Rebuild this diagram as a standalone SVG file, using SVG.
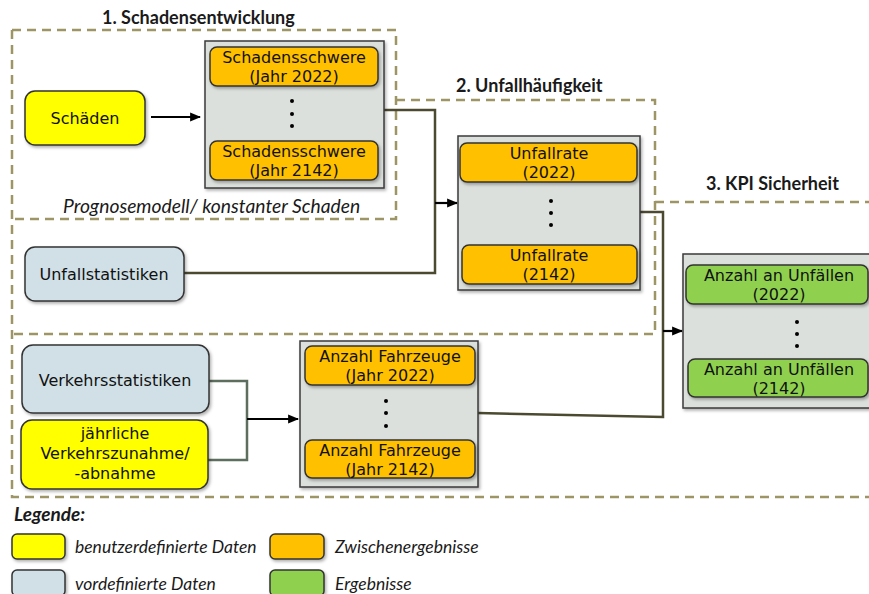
<svg xmlns="http://www.w3.org/2000/svg" width="869" height="594" viewBox="0 0 869 594">
<defs>
<filter id="sh" x="-10%" y="-10%" width="130%" height="140%">
<feDropShadow dx="1.5" dy="2" stdDeviation="1.5" flood-color="#000" flood-opacity="0.3"/>
</filter>
<marker id="arr" viewBox="0 0 10 10" refX="9" refY="5" markerWidth="5" markerHeight="5" orient="auto" markerUnits="strokeWidth">
<path d="M0,1 L10,5 L0,9 Z" fill="#000"/>
</marker>
<style>
.zone{fill:none;stroke:#9E9566;stroke-width:2.5;stroke-dasharray:9,6}
.grp{fill:#DCE0DC;stroke:#3A3A3A;stroke-width:1.5;filter:url(#sh)}
.n{stroke:#333;stroke-width:1.5;filter:url(#sh)}
.y{fill:#FFFF00}
.b{fill:#D0E0E6}
.o{fill:#FFC000}
.g{fill:#8FD14F}
.t{font-family:"DejaVu Sans",sans-serif;font-size:16px;fill:#111;text-anchor:middle}
.h{font-family:Lato,"Open Sans",sans-serif;font-weight:bold;font-size:18px;fill:#1a1a1a}
.it{font-family:Lato,"Open Sans",sans-serif;font-style:italic;font-size:17.5px;fill:#1a1a1a}
.dot{fill:#000}
.con{fill:none;stroke:#4B4A30;stroke-width:2.5}
.con2{fill:none;stroke:#5E6E5E;stroke-width:2.5}
.ar{fill:none;stroke:#000;stroke-width:2.2;marker-end:url(#arr)}
</style>
</defs>
<rect width="869" height="594" fill="#fff"/>

<g id="zones">
<path class="zone" d="M12,30 H396 V219 H12"/>
<path class="zone" d="M396,100 H655 V334 H12"/>
<path class="zone" d="M655,202 H875"/>
<path class="zone" d="M12,30 V497 H875"/>
</g>

<g id="titles">
<text class="h" x="102" y="24">1. Schadensentwicklung</text>
<text class="h" x="456" y="92">2. Unfallhäufigkeit</text>
<text class="h" x="706" y="190">3. KPI Sicherheit</text>
<text class="it" x="63" y="213" style="font-size:19.3px">Prognosemodell/ konstanter Schaden</text>
</g>

<g id="connectors">
<path class="con" d="M384,110 H435 V273 H184"/>
<path class="ar" d="M435,203 H457"/>
<path class="con" d="M640,212 H663 V417 L478,413"/>
<path class="ar" d="M663,331 H682"/>
<path class="con2" d="M208,381 H247 V460 H208"/>
<path class="ar" d="M247,419 H298"/>
<path class="ar" d="M151,117 H200"/>
</g>

<g id="schaeden">
<rect class="n y" x="25" y="91" width="120" height="54" rx="10"/>
<text class="t" x="85" y="124">Schäden</text>
</g>

<g id="schadensschwere">
<rect class="grp" x="205" y="41" width="179" height="147"/>
<rect class="n o" x="210" y="47" width="168" height="39" rx="7"/>
<text class="t" x="294" y="63">Schadensschwere</text>
<text class="t" x="294" y="82">(Jahr 2022)</text>
<circle class="dot" cx="292" cy="101" r="2"/>
<circle class="dot" cx="292" cy="114" r="2"/>
<circle class="dot" cx="292" cy="126" r="2"/>
<rect class="n o" x="210" y="141" width="168" height="39" rx="7"/>
<text class="t" x="294" y="157">Schadensschwere</text>
<text class="t" x="294" y="176">(Jahr 2142)</text>
</g>

<g id="unfallstatistiken">
<rect class="n b" x="25" y="247" width="159" height="54" rx="10"/>
<text class="t" x="104" y="280">Unfallstatistiken</text>
</g>

<g id="unfallrate">
<rect class="grp" x="458" y="136" width="182" height="154"/>
<rect class="n o" x="460" y="143" width="177" height="39" rx="7"/>
<text class="t" x="549" y="159">Unfallrate</text>
<text class="t" x="549" y="178">(2022)</text>
<circle class="dot" cx="551" cy="201" r="2"/>
<circle class="dot" cx="551" cy="213" r="2"/>
<circle class="dot" cx="551" cy="225" r="2"/>
<rect class="n o" x="462" y="245" width="175" height="39" rx="7"/>
<text class="t" x="549" y="261">Unfallrate</text>
<text class="t" x="549" y="280">(2142)</text>
</g>

<g id="verkehrsstatistiken">
<rect class="n b" x="22" y="345" width="187" height="68" rx="11"/>
<text class="t" x="115" y="386">Verkehrsstatistiken</text>
</g>

<g id="verkehrszunahme">
<rect class="n y" x="21" y="420" width="187" height="69" rx="11"/>
<text class="t" x="115" y="439">jährliche</text>
<text class="t" x="115" y="459">Verkehrszunahme/</text>
<text class="t" x="115" y="479">-abnahme</text>
</g>

<g id="fahrzeuge">
<rect class="grp" x="300" y="341" width="178" height="146"/>
<rect class="n o" x="305" y="346" width="170" height="39" rx="7"/>
<text class="t" x="390" y="362">Anzahl Fahrzeuge</text>
<text class="t" x="390" y="381">(Jahr 2022)</text>
<circle class="dot" cx="386" cy="401" r="2"/>
<circle class="dot" cx="386" cy="413" r="2"/>
<circle class="dot" cx="386" cy="426" r="2"/>
<rect class="n o" x="305" y="440" width="170" height="38" rx="7"/>
<text class="t" x="390" y="456">Anzahl Fahrzeuge</text>
<text class="t" x="390" y="475">(Jahr 2142)</text>
</g>

<g id="unfaelle">
<rect class="grp" x="683" y="254" width="195" height="154"/>
<rect class="n g" x="686" y="265" width="182" height="39" rx="7"/>
<text class="t" x="779" y="281">Anzahl an Unfällen</text>
<text class="t" x="779" y="300">(2022)</text>
<circle class="dot" cx="797" cy="322" r="2"/>
<circle class="dot" cx="797" cy="334" r="2"/>
<circle class="dot" cx="797" cy="346" r="2"/>
<rect class="n g" x="688" y="359" width="180" height="38" rx="7"/>
<text class="t" x="779" y="375">Anzahl an Unfällen</text>
<text class="t" x="779" y="394">(2142)</text>
</g>

<g id="legend">
<text class="it" x="14" y="521" style="font-size:19px;font-weight:bold">Legende:</text>
<rect class="n y" x="12" y="534" width="53" height="25" rx="5"/>
<text class="it" x="75" y="553">benutzerdefinierte Daten</text>
<rect class="n b" x="12" y="570" width="53" height="26" rx="5"/>
<text class="it" x="75" y="590">vordefinierte Daten</text>
<rect class="n o" x="270" y="534" width="54" height="25" rx="5"/>
<text class="it" x="335" y="553">Zwischenergebnisse</text>
<rect class="n g" x="270" y="570" width="54" height="26" rx="5"/>
<text class="it" x="335" y="590">Ergebnisse</text>
</g>
</svg>
